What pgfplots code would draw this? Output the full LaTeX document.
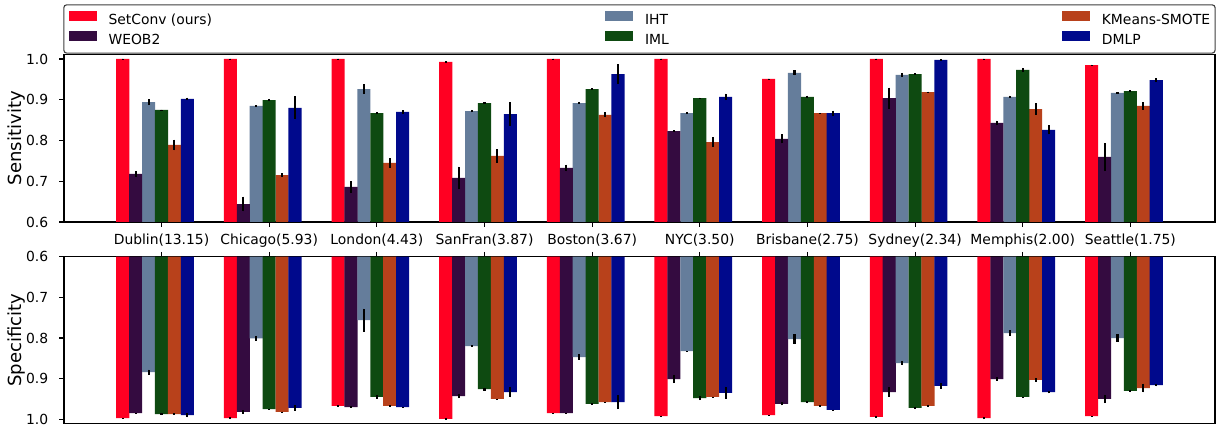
\documentclass[border=0pt]{standalone}
\usepackage{fontspec}
\setmainfont{DejaVu Sans}
\usepackage{pgfplots}
\usepackage{pgfplotstable}
\pgfplotsset{compat=1.18}
\definecolor{cSet}{RGB}{255,0,34}
\definecolor{cWEO}{RGB}{52,11,64}
\definecolor{cIHT}{RGB}{101,125,155}
\definecolor{cIML}{RGB}{14,74,17}
\definecolor{cKMS}{RGB}{184,65,27}
\definecolor{cDML}{RGB}{0,9,140}

% columns: SetConv, WEOB2, IHT, IML, KMeans-SMOTE, DMLP (value, error)
\pgfplotstableread{
x s0 e0 s1 e1 s2 e2 s3 e3 s4 e4 s5 e5
0 1.000 0.001 0.718 0.0065 0.894 0.007 0.875 0.001 0.789 0.013 0.902 0.003
1 1.000 0.001 0.644 0.018 0.885 0.002 0.899 0.003 0.715 0.005 0.880 0.028
2 1.000 0.001 0.686 0.014 0.926 0.012 0.867 0.002 0.745 0.012 0.870 0.004
3 0.993 0.001 0.708 0.028 0.872 0.003 0.892 0.002 0.762 0.016 0.865 0.029
4 1.000 0.001 0.733 0.008 0.892 0.003 0.926 0.002 0.863 0.006 0.963 0.024
5 1.000 0.001 0.823 0.002 0.867 0.002 0.904 0.001 0.796 0.012 0.907 0.008
6 0.951 0.001 0.804 0.011 0.966 0.006 0.907 0.003 0.867 0.001 0.867 0.006
7 1.000 0.001 0.904 0.026 0.961 0.005 0.963 0.002 0.919 0.001 0.998 0.001
8 1.000 0.001 0.843 0.006 0.907 0.003 0.973 0.005 0.877 0.014 0.826 0.011
9 0.985 0.001 0.760 0.034 0.917 0.002 0.921 0.002 0.885 0.009 0.948 0.005
}\sens
\pgfplotstableread{
x s0 e0 s1 e1 s2 e2 s3 e3 s4 e4 s5 e5
0 0.997 0.001 0.985 0.001 0.884 0.006 0.987 0.003 0.987 0.002 0.990 0.005
1 0.997 0.003 0.982 0.004 0.801 0.006 0.975 0.001 0.982 0.001 0.972 0.007
2 0.967 0.001 0.970 0.002 0.756 0.028 0.945 0.005 0.967 0.001 0.970 0.001
3 0.999 0.001 0.943 0.005 0.820 0.002 0.926 0.004 0.950 0.001 0.933 0.013
4 0.985 0.001 0.985 0.001 0.847 0.007 0.962 0.002 0.958 0.001 0.958 0.017
5 0.992 0.001 0.901 0.010 0.832 0.001 0.948 0.005 0.945 0.001 0.935 0.015
6 0.990 0.001 0.962 0.004 0.803 0.012 0.958 0.003 0.967 0.001 0.977 0.001
7 0.994 0.001 0.933 0.012 0.862 0.005 0.972 0.003 0.967 0.003 0.918 0.007
8 0.997 0.003 0.901 0.004 0.788 0.007 0.945 0.001 0.903 0.005 0.933 0.003
9 0.992 0.001 0.950 0.010 0.800 0.009 0.930 0.003 0.923 0.011 0.916 0.003
}\spec

\pgfplotsset{
  mybase/.style={
    scale only axis, width=828.72bp,
    xmin=-0.906, xmax=9.786,
    ymin=0.6,
    ytick={0.6,0.7,0.8,0.9,1.0},
    yticklabel style={/pgf/number format/fixed, /pgf/number format/fixed zerofill, /pgf/number format/precision=1, /pgf/number format/assume math mode=true, anchor=east, inner sep=0pt, xshift=-7.7bp},
    tick align=outside,
    major tick length=3.5bp,
    every tick/.style={black, line width=0.8bp},
    axis line style={line width=0.8bp},
    ytick pos=left,
    tick label style={font=\fontsize{10bp}{12bp}\selectfont},
    xtick={0,...,9},
    ylabel style={font=\fontsize{13bp}{15bp}\selectfont, at={(rel axis cs:-0.0411,0.5)}, anchor=center},
    bar width=0.1215,
  },
  ser/.style={ybar, bar shift=0, fill=#1, draw=none,
    error bars/y dir=both, error bars/y explicit, error bars/error mark=none,
    error bars/error bar style={line width=1.5bp, black},
    legend image code/.code={\fill[#1, sharp corners] (0bp,-0.5bp) rectangle (20.16bp,6.5bp);}},
}

\begin{document}
\begin{tikzpicture}
\useasboundingbox (0bp,0bp) rectangle (887.04bp,-312.48bp);
\begin{axis}[mybase,
  at={(46.08bp,-39.1bp)}, anchor=north west, height=120.74bp,
  ymax=1.0115,
  ylabel={Sensitivity},
  xtick pos=bottom,
  xticklabels={Dublin(13.15),Chicago(5.93),London(4.43),SanFran(3.87),Boston(3.67),NYC(3.50),Brisbane(2.75),Sydney(2.34),Memphis(2.00),Seattle(1.75)},
  xticklabel style={anchor=north, inner sep=0pt, yshift=-5bp},
  legend columns=3,
  legend cell align=left,
  legend style={
    at={(rel axis cs:0,1)}, anchor=north west, xshift=-0.5bp, yshift=36bp,
    draw=black!75, line width=0.8bp, rounded corners=2bp,
    inner xsep=3.6bp, inner ysep=4.5bp,
    nodes={inner sep=0pt, text height=7.5bp, text depth=1.8bp, font=\fontsize{10bp}{12bp}\selectfont},
    row sep=3.4bp,
    /tikz/column 1/.style={column sep=8.4bp},
    /tikz/column 2/.style={column sep=283.2bp},
    /tikz/column 3/.style={column sep=8.4bp},
    /tikz/column 4/.style={column sep=283.2bp},
    /tikz/column 5/.style={column sep=8.4bp},
  },
]
\addplot[ser=cSet] table[x expr=\thisrow{x}-0.36, y=s0, y error=e0] {\sens};
\addlegendentry{SetConv (ours)}
\addplot[ser=cIHT] table[x expr=\thisrow{x}-0.12, y=s2, y error=e2] {\sens};
\addlegendentry{IHT}
\addplot[ser=cKMS] table[x expr=\thisrow{x}+0.12, y=s4, y error=e4] {\sens};
\addlegendentry{KMeans-SMOTE}
\addplot[ser=cWEO] table[x expr=\thisrow{x}-0.24, y=s1, y error=e1] {\sens};
\addlegendentry{WEOB2}
\addplot[ser=cIML] table[x=x, y=s3, y error=e3] {\sens};
\addlegendentry{IML}
\addplot[ser=cDML] table[x expr=\thisrow{x}+0.24, y=s5, y error=e5] {\sens};
\addlegendentry{DMLP}
\end{axis}
\begin{axis}[mybase,
  at={(46.08bp,-184.82bp)}, anchor=north west, height=119.95bp,
  y dir=reverse,
  ymax=1.0098,
  ylabel={Specificity},
  xtick pos=top,
  xticklabels={},
]
\addplot[ser=cSet] table[x expr=\thisrow{x}-0.36, y=s0, y error=e0] {\spec};
\addplot[ser=cWEO] table[x expr=\thisrow{x}-0.24, y=s1, y error=e1] {\spec};
\addplot[ser=cIHT] table[x expr=\thisrow{x}-0.12, y=s2, y error=e2] {\spec};
\addplot[ser=cIML] table[x=x, y=s3, y error=e3] {\spec};
\addplot[ser=cKMS] table[x expr=\thisrow{x}+0.12, y=s4, y error=e4] {\spec};
\addplot[ser=cDML] table[x expr=\thisrow{x}+0.24, y=s5, y error=e5] {\spec};
\end{axis}
\end{tikzpicture}
\end{document}
